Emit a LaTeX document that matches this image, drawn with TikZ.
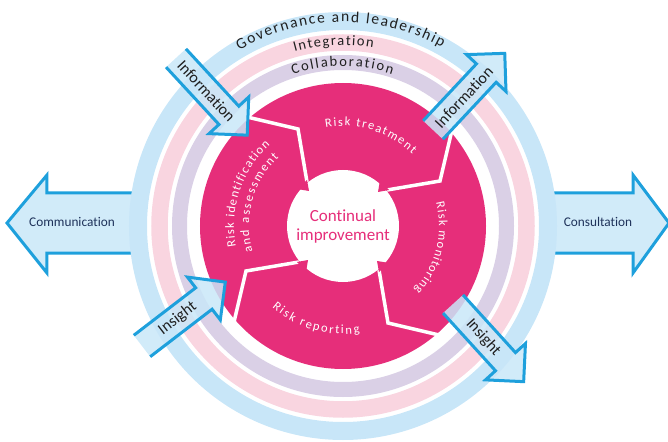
\documentclass[tikz,border=0pt]{standalone}
\usepackage{fontspec}
\setmainfont{Carlito}[Ligatures=CommonOff]
\usetikzlibrary{decorations.text}
\definecolor{RPink}{HTML}{E62E7A}
\definecolor{RBlueRing}{HTML}{C8E6F8}
\definecolor{RPinkRing}{HTML}{F9D5E0}
\definecolor{RLilacRing}{HTML}{DAD0E6}
\definecolor{RArrowFill}{HTML}{C9E7F8}
\definecolor{RArrowLine}{HTML}{1EA0DC}
\definecolor{RNavy}{HTML}{1E325A}
\definecolor{RInk}{HTML}{1F1F1F}

\begin{document}
\begin{tikzpicture}[x=1pt,y=1pt,
  flowfill/.style={fill=RArrowFill,fill opacity=0.85},
  flowline/.style={draw=RArrowLine,line width=3pt,line join=miter},
  flowtext/.style={text=RInk,font=\fontsize{16}{16}\selectfont,inner sep=0pt},
  hztext/.style={text=RNavy,font=\fontsize{13.3}{14}\selectfont,inner sep=0pt},
  sepline/.style={draw=white,line width=3.5pt,line join=miter},
  core/.style={circle,fill=white,minimum size=112pt,inner sep=0pt,align=center,
    text=RPink,font=\fontsize{17}{19}\selectfont},
  ringtext/.style={decorate,decoration={text along path,text align=fit to path,text color=RInk}},
  disktext/.style={decorate,decoration={text along path,text align=fit to path,text color=white}}
]
  \useasboundingbox (-343,-215) rectangle (325,226);

  % side arrows, tucked under the outer ring
  \fill[flowfill] (-200,33) -- (-296,33) -- (-296,51) -- (-336,3) -- (-296,-47) -- (-296,-27) -- (-200,-27) -- cycle;
  \draw[flowline] (-205,33) -- (-296,33) -- (-296,51) -- (-336,3) -- (-296,-47) -- (-296,-27) -- (-205,-27);
  \fill[flowfill] (200,33) -- (290,33) -- (290,51) -- (326,3) -- (290,-47) -- (290,-27) -- (200,-27) -- cycle;
  \draw[flowline] (205,33) -- (290,33) -- (290,51) -- (326,3) -- (290,-47) -- (290,-27) -- (205,-27);
  \node[hztext] (comm) at (-271,4) {Communication};
  \node[hztext] (consult) at (255,4) {Consultation};

  % rings
  \draw[RBlueRing,line width=18pt] (0,0) circle (205);
  \draw[RPinkRing,line width=16.5pt] (0,0) circle (183.5);
  \draw[RLilacRing,line width=15pt] (0,0) circle (163.5);

  % cycle disk
  \fill[RPink] (0,0) circle (143);
  \foreach \r in {0,-90,-180,-270}
    {\draw[sepline,rotate=\r] (-96,109) -- (-45,97) -- (-36,44);}
  \node[core] (core) at (0,0) {Continual\\improvement};
  \foreach \r in {0,-90,-180,-270}
    {\fill[RPink,rotate=\r] (-36,46) -- (-34,35) -- (-46,37) -- cycle;}

  \path[disktext,decoration={text={|\fontsize{12.5}{12}\selectfont|Risk treatment}}]
    (100:100) arc[start angle=100,end angle=46,radius=100];
  \path[disktext,decoration={text={|\fontsize{12.5}{12}\selectfont|Risk monitoring}}]
    (14:96) arc[start angle=14,end angle=-42,radius=96];
  \path[disktext,decoration={text={|\fontsize{12.5}{12}\selectfont|Risk reporting}}]
    (229:108) arc[start angle=229,end angle=279,radius=108];
  \path[disktext,decoration={text={|\fontsize{12.5}{12}\selectfont|Risk identification}}]
    (191:109) arc[start angle=191,end angle=132,radius=109];
  \path[disktext,decoration={text={|\fontsize{12.5}{12}\selectfont|and assessment}}]
    (196:94) arc[start angle=196,end angle=133,radius=94];

  % flows in and out of the cycle
  \foreach \nm/\x/\y/\ang/\lbl in {infoL/-167/168/-47.3/Information,infoR/90/96/46.9/Information,
      insL/-201/-120/37.5/Insight,insR/110/-78/-47.7/Insight} {
    \begin{scope}[shift={(\x,\y)},rotate=\ang]
      \fill[flowfill] (0,13.5) -- (78,13.5) -- (78,27) -- (105,0) -- (78,-27) -- (78,-13.5) -- (0,-13.5) -- cycle;
      \draw[flowline] (0,13.5) -- (78,13.5) -- (78,27) -- (105,0) -- (78,-27) -- (78,-13.5) -- (0,-13.5);
      \node[flowtext,rotate=\ang] (\nm) at (45,0) {\lbl};
    \end{scope}
  }

  % ring labels
  \path[ringtext,decoration={text={|\fontsize{15.5}{16}\selectfont|Governance and leadership}}]
    (120.5:204) arc[start angle=120.5,end angle=61,radius=204];
  \path[ringtext,decoration={text={|\fontsize{14.5}{15}\selectfont|Integration}}]
    (105.5:181) arc[start angle=105.5,end angle=80.4,radius=181];
  \path[ringtext,decoration={text={|\fontsize{14.5}{15}\selectfont|Collaboration}}]
    (108.3:159.5) arc[start angle=108.3,end angle=72,radius=159.5];
\end{tikzpicture}
\end{document}
